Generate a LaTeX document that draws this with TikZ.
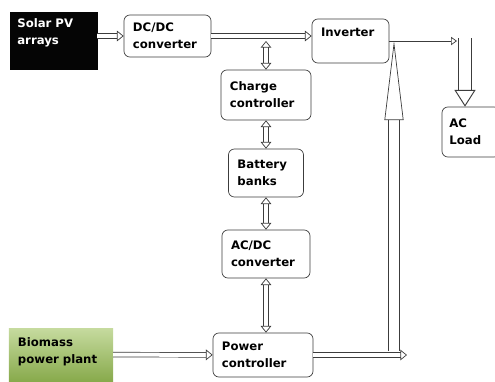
\documentclass[tikz,border=0pt]{standalone}
\usepackage{fontspec}
\setmainfont{DejaVu Sans}
\usepackage{xcolor}
\definecolor{CEdge}{HTML}{3C3C3C}
\definecolor{CSolar}{HTML}{050505}
\definecolor{CBioTop}{HTML}{C6DB9F}
\definecolor{CBioBottom}{HTML}{88AA4C}
\usepackage{tikz}
\usetikzlibrary{arrows.meta}
\tikzstyle{blockNode}=[rectangle, rounded corners=5pt, draw=CEdge, line width=0.6pt, fill=white,
  align=left, inner xsep=0.27cm, font=\fontsize{10}{14.5}\selectfont\bfseries]
\tikzstyle{solarNode}=[rectangle, draw=CSolar, fill=CSolar, text=white,
  align=left, inner xsep=0.22cm, font=\fontsize{10}{14.5}\selectfont\bfseries]
\tikzstyle{bioNode}=[rectangle, top color=CBioTop, bottom color=CBioBottom, draw=none,
  align=left, inner xsep=0.27cm, font=\fontsize{10}{14.5}\selectfont\bfseries]
\tikzstyle{dblArr}=[draw=CEdge, line width=0.6pt, double=white, double distance=0.12cm,
  -{Triangle[open, length=0.2cm, width=0.32cm]}]
\tikzstyle{dblBoth}=[draw=CEdge, line width=0.6pt, double=white, double distance=0.12cm,
  {Triangle[open, length=0.2cm, width=0.32cm]}-{Triangle[open, length=0.2cm, width=0.32cm]}]
\tikzstyle{riseArr}=[draw=CEdge, line width=0.6pt, double=white, double distance=0.3cm,
  -{Triangle[open, length=2.37cm, width=0.57cm]}]
\tikzstyle{dropArr}=[draw=CEdge, line width=0.8pt, double=white, double distance=0.36cm,
  -{Triangle[open, length=0.5cm, width=0.63cm]}]
\tikzstyle{thinArr}=[draw=CEdge, line width=0.6pt, -{Triangle[open, length=0.18cm, width=0.25cm]}]

\begin{document}
\begin{tikzpicture}[x=0.03cm, y=-0.03cm]
\clip (0,0) rectangle (495,381);
\node[solarNode, minimum width=2.61cm, minimum height=1.71cm, text width=2.17cm] (solar) at (53.5,40.5) {Solar PV\\arrays\\\mbox{}};
\node[blockNode, minimum width=2.61cm, minimum height=1.26cm, text width=2.07cm] (dcdc) at (167.5,36) {DC/DC\\converter};
\node[blockNode, minimum width=2.31cm, minimum height=1.32cm, text width=1.77cm] (inverter) at (350.5,41) {Inverter\\\mbox{}};
\node[blockNode, minimum width=2.7cm, minimum height=1.5cm, text width=2.16cm] (charge) at (266,95) {Charge\\controller};
\node[blockNode, minimum width=2.25cm, minimum height=1.44cm, text width=1.71cm] (battery) at (266,173) {Battery\\banks};
\node[blockNode, minimum width=2.64cm, minimum height=1.44cm, text width=2.1cm] (acdc) at (266,254) {AC/DC\\converter};
\node[blockNode, minimum width=3cm, minimum height=1.32cm, text width=2.46cm] (power) at (263,355) {Power\\controller};
\node[bioNode, minimum width=3.12cm, minimum height=1.59cm, text width=2.58cm] (biomass) at (61,354.5) {Biomass\\power plant\\[-7pt]\mbox{}};
\node[blockNode, minimum width=1.74cm, minimum height=1.5cm, text width=1.3cm, inner xsep=0.21cm] (acload) at (471,132) {AC\\Load};

\coordinate (chargeTap) at (266,41);
\coordinate (powerOut) at (407,355);
\coordinate (riseFoot) at (394,351);
\coordinate (loadTap) at (457,41);
\coordinate (loadDrop) at (465,38);

\draw[dblArr] (solar.east |- dcdc.west) -- (dcdc.west);
\draw[dblArr] (dcdc.east) -- (dcdc.east -| inverter.west);
\draw[dblBoth] (chargeTap) -- (charge.north);
\draw[dblBoth] (charge) -- (battery);
\draw[dblBoth] (battery) -- (acdc);
\draw[dblBoth] (acdc) -- (acdc |- power.north);
\draw[dblArr] (biomass) -- (power);
\draw[dblArr] (power.east) -- (powerOut);
\draw[riseArr] (riseFoot) -- (riseFoot |- inverter.east);
\draw[thinArr] (inverter.east) -- (loadTap);
\draw[dropArr] (loadDrop) -- (loadDrop |- acload.north);
\end{tikzpicture}
\end{document}
